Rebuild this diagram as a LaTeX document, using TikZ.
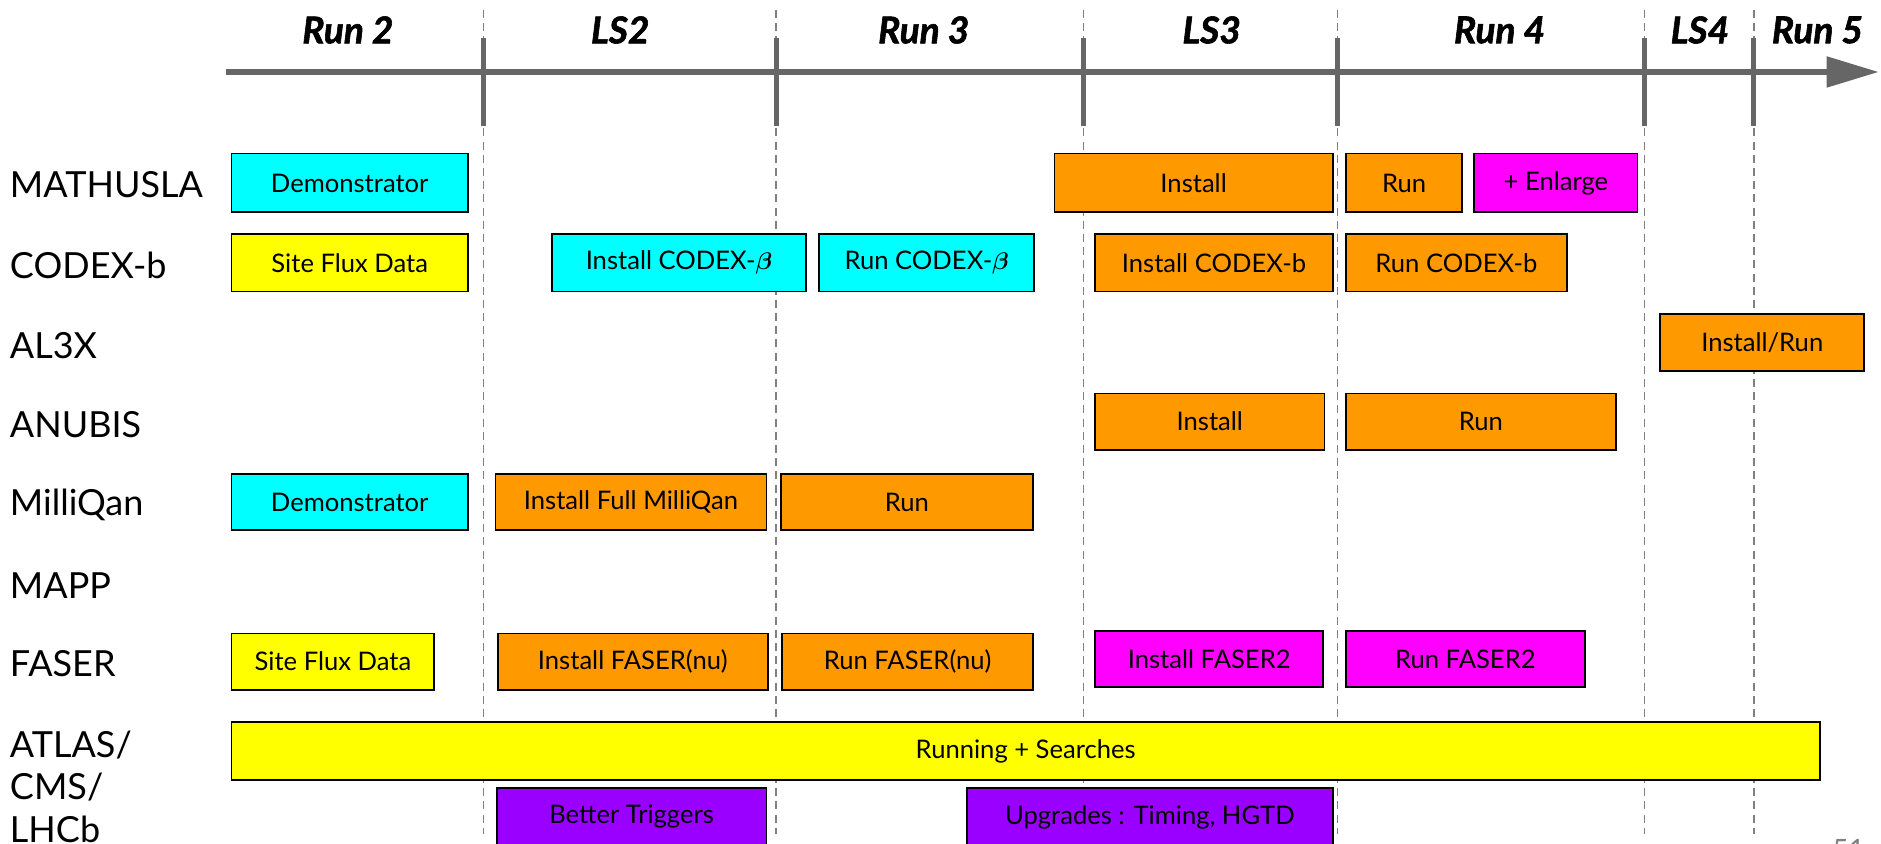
\documentclass[tikz,border=0pt]{standalone}
\usepackage{amsmath}
\usepackage{fontspec}
\setmainfont{Lato}
\newfontfamily\headerfont[ItalicFeatures={FakeBold=1.6}, BoldItalicFeatures={FakeBold=1.6}]{Lato}
\usetikzlibrary{arrows.meta}

\definecolor{axisgray}{HTML}{666666}
\definecolor{guidegray}{HTML}{808080}
\definecolor{cyanbar}{HTML}{00FFFF}
\definecolor{yellowbar}{HTML}{FFFF00}
\definecolor{orangebar}{HTML}{FF9900}
\definecolor{magentabar}{HTML}{FF00FF}
\definecolor{purplebar}{HTML}{9900FF}

% \ganttbar{name}{x1}{y1}{x2}{y2}{fill}{text}
\newcommand\ganttbar[7]{%
  \node[taskbox, fill=#6, minimum width={(#4-#2)*0.6pt}, minimum height={(#5-#3)*0.6pt}]
    (#1) at ({(#2+#4)/2},{(#3+#5)/2}) {#7};}

\begin{document}
\begin{tikzpicture}[x=0.6pt, y=-0.6pt,
  taskbox/.style={draw=black, line width=0.9pt, inner sep=0pt, font=\fontsize{12.8}{14}\selectfont},
  period/.style={font=\headerfont\fontsize{18.5}{20}\selectfont\bfseries\itshape},
  rowlabel/.style={anchor=west, inner sep=0pt, font=\fontsize{18}{20}\selectfont},
  guide/.style={guidegray, line width=0.7pt, dash pattern=on 4pt off 2.6pt},
  tick/.style={axisgray, line width=2.6pt},
  timeaxis/.style={axisgray, line width=2.6pt, -{Triangle[length=26pt, width=15pt]}}]

\useasboundingbox (0,0) rectangle (1568,703);

% phase boundaries
\foreach \x [count=\i] in {403,647,903,1115,1371,1462} {
  \coordinate (gtop\i) at (\x,8);
  \coordinate (gbot\i) at (\x,695);
  \coordinate (ttop\i) at (\x,32);
  \coordinate (tbot\i) at (\x,105);
  \draw[guide] (gtop\i) -- (gbot\i);
}

% time axis with ticks
\coordinate (axisstart) at (188,60);
\coordinate (axisend) at (1566,60);
\draw[timeaxis] (axisstart) -- (axisend);
\foreach \i in {1,...,6} { \draw[tick] (ttop\i) -- (tbot\i); }

% period headers
\node[period] (run2) at (290,25) {Run 2};
\node[period] (ls2)  at (517,25) {LS2};
\node[period] (run3) at (770,25) {Run 3};
\node[period] (ls3)  at (1010,25) {LS3};
\node[period] (run4) at (1250,25) {Run 4};
\node[period] (ls4)  at (1417,25) {LS4};
\node[period] (run5) at (1515,25) {Run 5};

% experiment labels
\node[rowlabel] (lmathusla) at (8,154) {MATHUSLA};
\node[rowlabel] (lcodex)    at (8,221) {CODEX-b};
\node[rowlabel] (lal3x)     at (8,288) {AL3X};
\node[rowlabel] (lanubis)   at (8,354) {ANUBIS};
\node[rowlabel] (lmilliqan) at (8,421) {MilliQan};
\node[rowlabel] (lmapp)     at (8,488) {MAPP};
\node[rowlabel] (lfaser)    at (8,553) {FASER};
\node[rowlabel] (latlas)    at (8,621) {ATLAS/};
\node[rowlabel] (lcms)      at (8,656) {CMS/};
\node[rowlabel] (llhcb)     at (8,691) {LHCb};

% MATHUSLA
\ganttbar{mdemo}{193}{128}{390}{177}{cyanbar}{Demonstrator}
\ganttbar{minst}{879}{128}{1111}{177}{orangebar}{Install}
\ganttbar{mrun}{1122}{128}{1219}{177}{orangebar}{Run}
\ganttbar{menl}{1229}{128}{1365}{177}{magentabar}{+ Enlarge}

% CODEX-b
\ganttbar{csite}{193}{195}{390}{243}{yellowbar}{Site Flux Data}
\ganttbar{cbinst}{460}{195}{672}{243}{cyanbar}{Install CODEX-$\boldsymbol{\beta}$}
\ganttbar{cbrun}{683}{195}{862}{243}{cyanbar}{Run CODEX-$\boldsymbol{\beta}$}
\ganttbar{cinst}{913}{195}{1111}{243}{orangebar}{Install CODEX-b}
\ganttbar{crun}{1122}{195}{1306}{243}{orangebar}{Run CODEX-b}

% AL3X
\ganttbar{ainst}{1384}{262}{1554}{309}{orangebar}{Install/Run}

% ANUBIS
\ganttbar{ninst}{913}{328}{1104}{375}{orangebar}{Install}
\ganttbar{nrun}{1122}{328}{1347}{375}{orangebar}{Run}

% MilliQan
\ganttbar{qdemo}{193}{395}{390}{442}{cyanbar}{Demonstrator}
\ganttbar{qinst}{413}{395}{639}{442}{orangebar}{Install Full MilliQan}
\ganttbar{qrun}{651}{395}{861}{442}{orangebar}{Run}

% FASER
\ganttbar{fsite}{193}{528}{362}{575}{yellowbar}{Site Flux Data}
\ganttbar{finst}{415}{528}{640}{575}{orangebar}{Install FASER(nu)}
\ganttbar{frun}{652}{528}{861}{575}{orangebar}{Run FASER(nu)}
\ganttbar{f2inst}{913}{526}{1103}{573}{magentabar}{Install FASER2}
\ganttbar{f2run}{1122}{526}{1321}{573}{magentabar}{Run FASER2}

% ATLAS / CMS / LHCb
\ganttbar{lrun}{193}{602}{1517}{650}{yellowbar}{\raisebox{-2pt}{Running + Searches}}
\ganttbar{ltrig}{414}{657}{639}{705}{purplebar}{Better Triggers}
\ganttbar{lupg}{806}{657}{1111}{705}{purplebar}{Upgrades : Timing, HGTD}

% slide number
\node[anchor=north, text=guidegray, font=\fontsize{14}{16}\selectfont] (pagenum) at (1541,694) {51};

\end{tikzpicture}
\end{document}
